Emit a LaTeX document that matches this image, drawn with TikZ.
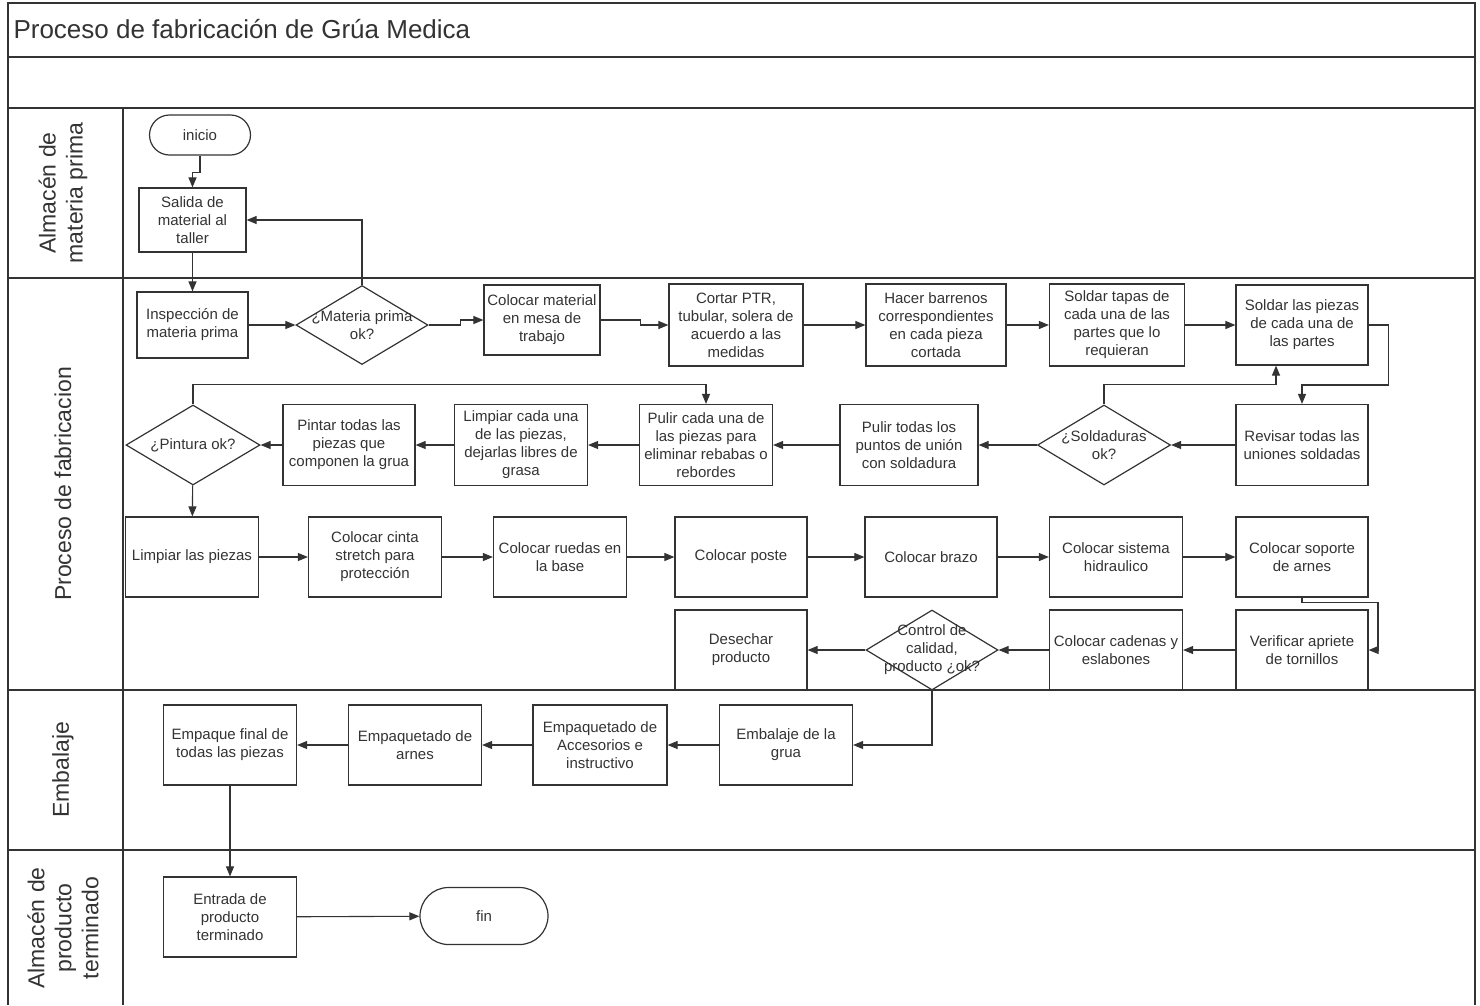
\documentclass[tikz,border=0pt]{standalone}
\usepackage{fontspec}
\setmainfont{Liberation Sans}
\usepackage{tikz}
\usetikzlibrary{arrows.meta,shapes.geometric,shapes.misc}

\newcommand{\procfont}{\fontsize{15}{18}\selectfont}
\newcommand{\lanefont}{\fontsize{23}{27}\selectfont}
\newcommand{\titlefont}{\fontsize{26}{30}\selectfont}
\definecolor{ink}{gray}{0.2}

\begin{document}
\begin{tikzpicture}[x=1pt, y=-1pt, font=\procfont, text=ink,
  proc/.style={draw=ink, line width=1.2pt, minimum width=133, minimum height=80, align=center, inner sep=2pt},
  dec/.style={draw=ink, diamond, line width=1.2pt, minimum width=133, minimum height=80, inner sep=0pt},
  dectext/.style={align=center, inner sep=0pt},
  term/.style={draw=ink, rounded rectangle, line width=1.2pt, inner sep=2pt},
  flow/.style={draw=ink, line width=1.1pt, -{Triangle[length=10pt,width=8pt]}},
  lane/.style={rotate=90, font=\lanefont, align=center},
  frame/.style={draw=ink, line width=1.6pt}]
  \useasboundingbox (0,0) rectangle (1480,1005);

  % swimlanes
  \draw[frame] (8,1005) -- (8,3) -- (1475,3) -- (1475,1005);
  \foreach \y in {57,108,278,690,850}
    \draw[frame] (8,\y) -- (1475,\y);
  \draw[frame] (123,108) -- (123,1005);
  \node[anchor=west, font=\titlefont] (title) at (10,29) {Proceso de fabricación de Grúa Medica};
  \node[lane] (laneA) at (63,193) {Almacén de\\materia prima};
  \node[lane] (laneB) at (63,484) {Proceso de fabricacion};
  \node[lane] (laneC) at (63,770) {Embalaje};
  \node[lane] (laneD) at (63,928) {Almacén de\\producto\\terminado};

  % almacen de materia prima
  \node[term, minimum width=105, minimum height=40] (inicio) at (200,135) {inicio};
  \node[proc, minimum width=107, minimum height=64] (salida) at (192.5,220) {Salida de\\material al\\taller};

  % fabricacion, fila 1
  \node[proc, minimum width=111, minimum height=66] (insp) at (192.5,325) {Inspección de\\materia prima};
  \node[dec, minimum width=132, minimum height=79] (mpok) at (362,325) {};
  \node[dectext] (mpoklbl) at (mpok) {¿Materia prima\\ok?};
  \node[proc, minimum width=116, minimum height=70] (mesa) at (542,320) {Colocar material\\en mesa de\\trabajo};
  \node[proc, minimum width=134, minimum height=82] (cortar) at (736,325) {Cortar PTR,\\tubular, solera de\\acuerdo a las\\medidas};
  \node[proc, minimum width=140, minimum height=82] (barrenos) at (936,325) {Hacer barrenos\\correspondientes\\en cada pieza\\cortada};
  \node[proc, minimum width=135, minimum height=82] (tapas) at (1117,325) {Soldar tapas de\\cada una de las\\partes que lo\\requieran};
  \node[proc, minimum width=132, minimum height=80] (soldar) at (1302,325) {Soldar las piezas\\de cada una de\\las partes};

  % fila 2
  \node[proc, minimum width=132, minimum height=81] (revisar) at (1302,445) {Revisar todas las\\uniones soldadas};
  \node[dec] (soldok) at (1104,445) {};
  \node[dectext] (soldoklbl) at (soldok) {¿Soldaduras\\ok?};
  \node[proc, minimum width=138, minimum height=81] (pulirunion) at (909,445) {Pulir todas los\\puntos de unión\\con soldadura};
  \node[proc, minimum height=81] (pulir) at (706,445) {Pulir cada una de\\las piezas para\\eliminar rebabas o\\rebordes};
  \node[proc, minimum height=81] (grasa) at (521,445) {Limpiar cada una\\de las piezas,\\dejarlas libres de\\grasa};
  \node[proc, minimum width=132, minimum height=81] (pintar) at (349,445) {Pintar todas las\\piezas que\\componen la grua};
  \node[dec, minimum width=134] (pintok) at (193,445) {};
  \node[dectext] (pintoklbl) at (pintok) {¿Pintura ok?};

  % fila 3
  \node[proc] (limpiar) at (192,557) {Limpiar las piezas};
  \node[proc] (cinta) at (375,557) {Colocar cinta\\stretch para\\protección};
  \node[proc] (ruedas) at (560,557) {Colocar ruedas en\\la base};
  \node[proc, minimum width=132] (poste) at (741,557) {Colocar poste};
  \node[proc, minimum width=132] (brazo) at (931,557) {Colocar brazo};
  \node[proc] (hidra) at (1116,557) {Colocar sistema\\hidraulico};
  \node[proc, minimum width=132] (soporte) at (1302,557) {Colocar soporte\\de arnes};

  % fila 4
  \node[proc, minimum width=132] (verif) at (1302,650) {Verificar apriete\\de tornillos};
  \node[proc] (cadenas) at (1116,650) {Colocar cadenas y\\eslabones};
  \node[dec, minimum width=132] (calidad) at (932,650) {};
  \node[dectext] (calidadlbl) at (calidad) {Control de\\calidad,\\producto ¿ok?};
  \node[proc, minimum width=132] (desechar) at (741,650) {Desechar\\producto};

  % embalaje
  \node[proc] (embgrua) at (786,745) {Embalaje de la\\grua};
  \node[proc, minimum width=134] (accesorios) at (600,745) {Empaquetado de\\Accesorios e\\instructivo};
  \node[proc] (arnes) at (415,745) {Empaquetado de\\arnes};
  \node[proc] (final) at (230,745) {Empaque final de\\todas las piezas};

  % almacen de producto terminado
  \node[proc] (entrada) at (230,917) {Entrada de\\producto\\terminado};
  \node[term, minimum width=132, minimum height=57] (fin) at (484,916) {fin};

  % conectores
  \draw[flow] (inicio.south) -- ++(0,17) -| (salida.north);
  \draw[flow] (salida) -- (insp);
  \draw[flow] (insp) -- (mpok);
  \draw[flow] (mpok.north) |- (salida.east);
  \draw[flow] (mpok.east) -- ++(32,0) |- (mesa.west);
  \draw[flow] (mesa.east) -- ++(40,0) |- (cortar.west);
  \draw[flow] (cortar) -- (barrenos);
  \draw[flow] (barrenos) -- (tapas);
  \draw[flow] (tapas) -- (soldar);
  \draw[flow] (soldar.east) -- ++(20,0) -- ++(0,60) -| (revisar.north);
  \draw[flow] (revisar) -- (soldok);
  \draw[flow] (soldok.north) -- ++(0,-20) -| ([xshift=-26pt]soldar.south);
  \draw[flow] (soldok) -- (pulirunion);
  \draw[flow] (pulirunion) -- (pulir);
  \draw[flow] (pulir) -- (grasa);
  \draw[flow] (grasa) -- (pintar);
  \draw[flow] (pintar) -- (pintok);
  \draw[flow] (pintok.north) -- ++(0,-20) -| (pulir.north);
  \draw[flow] (pintok) -- (limpiar);
  \draw[flow] (limpiar) -- (cinta);
  \draw[flow] (cinta) -- (ruedas);
  \draw[flow] (ruedas) -- (poste);
  \draw[flow] (poste) -- (brazo);
  \draw[flow] (brazo) -- (hidra);
  \draw[flow] (hidra) -- (soporte);
  \draw[flow] (soporte.south) -- ++(0,5) -- ++(76,0) |- (verif.east);
  \draw[flow] (verif) -- (cadenas);
  \draw[flow] (cadenas) -- (calidad);
  \draw[flow] (calidad) -- (desechar);
  \draw[flow] (calidad.south) |- (embgrua.east);
  \draw[flow] (embgrua) -- (accesorios);
  \draw[flow] (accesorios) -- (arnes);
  \draw[flow] (arnes) -- (final);
  \draw[flow] (final) -- (entrada);
  \draw[flow] (entrada) -- (fin);
\end{tikzpicture}
\end{document}
